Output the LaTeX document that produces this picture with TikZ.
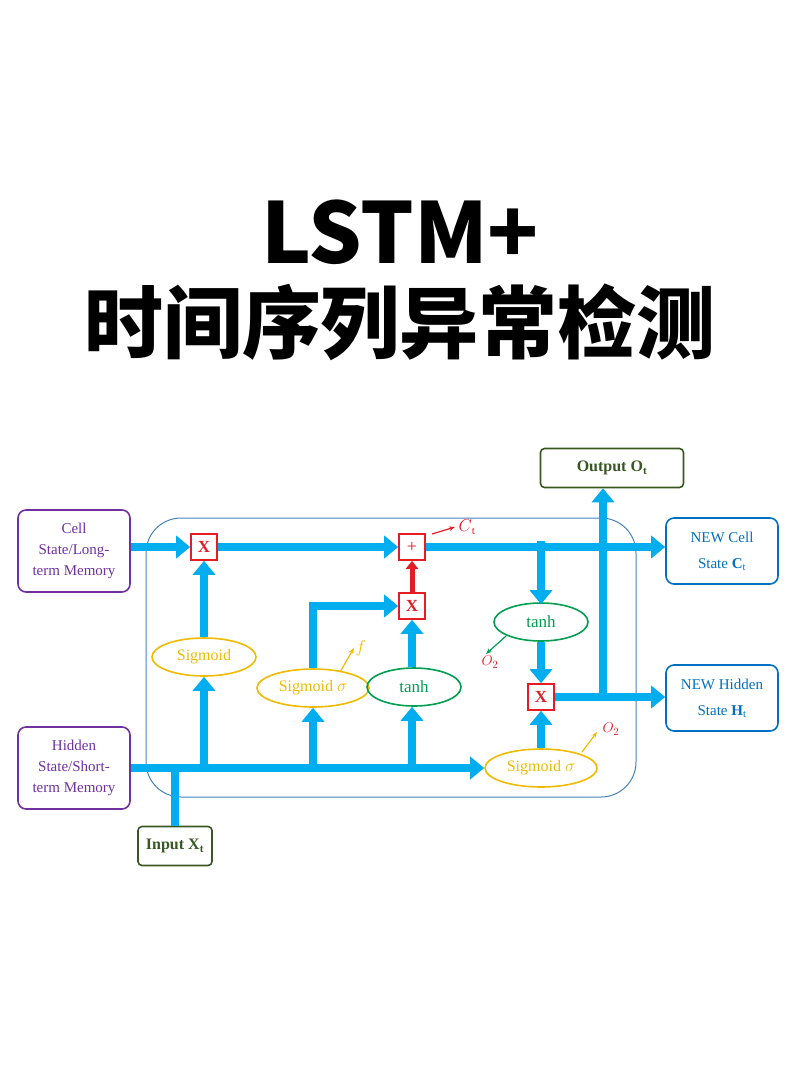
\documentclass[tikz,border=0pt]{standalone}
\usepackage{fontspec}
\setmainfont{Liberation Serif}
\newfontfamily\cjk{Noto Sans CJK SC}
\usetikzlibrary{arrows.meta,shapes.geometric,positioning}
\definecolor{flow}{RGB}{0,174,239}
\definecolor{gatered}{RGB}{228,28,36}
\definecolor{sigyel}{RGB}{240,186,0}
\definecolor{tanhgr}{RGB}{0,158,80}
\definecolor{memvio}{RGB}{112,48,160}
\definecolor{iogreen}{RGB}{56,87,35}
\definecolor{newblue}{RGB}{0,112,192}
\definecolor{cellline}{RGB}{70,130,190}
\tikzstyle{flowline}=[draw=flow,line width=8pt]
\tikzstyle{flowarr}=[flowline,-{Triangle[length=14pt,width=22pt]}]
\tikzstyle{op}=[draw=gatered,line width=1.6pt,minimum size=26pt,inner sep=0pt,text=gatered,font=\fontsize{17}{18}\selectfont\bfseries]
\tikzstyle{sig}=[ellipse,draw=sigyel,line width=1.6pt,text=sigyel,minimum height=38pt,font=\fontsize{16}{17}\selectfont]
\tikzstyle{tnh}=[ellipse,draw=tanhgr,line width=1.6pt,text=tanhgr,minimum width=94pt,minimum height=38pt,font=\fontsize{17}{18}\selectfont]
\tikzstyle{mem}=[draw=memvio,rounded corners=8pt,line width=1.6pt,text=memvio,minimum width=112pt,minimum height=82pt,align=center,font=\fontsize{15}{21}\selectfont]
\tikzstyle{newst}=[draw=newblue,rounded corners=8pt,line width=1.6pt,text=newblue,minimum width=112pt,minimum height=66pt,align=center,font=\fontsize{15}{26}\selectfont]
\tikzstyle{io}=[draw=iogreen,rounded corners=4pt,line width=1.6pt,text=iogreen,inner xsep=8pt,minimum height=39pt,font=\fontsize{16}{17}\selectfont\bfseries]
\tikzstyle{note}=[line width=1.2pt,-{Stealth[length=6pt]}]
\begin{document}
\begin{tikzpicture}[x=1pt,y=-1pt]
	\useasboundingbox (0,0) rectangle (800,1069);
	% title
	\node (title) at (400,232) {\cjk\bfseries\fontsize{84}{88}\selectfont LSTM+};
	\node (subtitle) at (400,322) {\cjk\bfseries\fontsize{79}{82}\selectfont 时间序列异常检测};
	% cell frame
	\draw[cellline,line width=1pt,rounded corners=35pt] (146,518) rectangle (636,797);
	% boxes outside
	\node[mem] (cell) at (74,551) {Cell\\State/Long-\\term Memory};
	\node[mem] (hidden) at (74,768) {Hidden\\State/Short-\\term Memory};
	\node[io] (input) at (175,846) {Input X\textsubscript{t}};
	\node[io,minimum width=143pt] (output) at (612,468) {Output O\textsubscript{t}};
	\node[newst] (newcell) at (722,551) {NEW Cell\\State \textbf{C}\textsubscript{t}};
	\node[newst] (newhid) at (722,698) {NEW Hidden\\State \textbf{H}\textsubscript{t}};
	% gates
	\node[op] (mulf) at (204,547) {X};
	\node[op,font=\fontsize{18}{18}\selectfont] (add) at (412,547) {+};
	\node[op] (muli) at (412,606) {X};
	\node[op] (mulo) at (541,697) {X};
	\node[sig,minimum width=104pt] (sigf) at (204,657) {Sigmoid};
	\node[sig,minimum width=112pt] (sigi) at (313,688) {Sigmoid $\sigma$};
	\node[tnh] (tanhc) at (414,687) {tanh};
	\node[tnh] (tanho) at (541,622) {tanh};
	\node[sig,minimum width=112pt] (sigo) at (541,768) {Sigmoid $\sigma$};
	% junctions
	\coordinate (jin) at (175,768);
	\coordinate (jf) at (204,768);
	\coordinate (ji) at (313,768);
	\coordinate (jc) at (412,768);
	\coordinate (jt) at (541,547);
	\coordinate (jout) at (603,697);
	% cell state line
	\draw[flowarr] (cell.east |- mulf) -- (mulf.west);
	\draw[flowarr] (mulf.east) -- (add.west);
	\draw[flowarr] (add.east) -- (newcell.west |- add);
	\draw[flowarr] ([yshift=6pt]jt) -- ([yshift=-2pt]tanho.north);
	\draw[flowarr] (tanho.south) -- (mulo.north);
	\draw[flowarr] (mulo.east) -- (newhid.west |- mulo);
	\draw[flowarr] (jout) -- (output.south -| jout);
	% hidden state line
	\draw[flowarr] (hidden.east) -- (sigo.west);
	\draw[flowline] (input.north) -- (jin);
	\draw[flowarr] (jf) -- (sigf.south);
	\draw[flowarr] (sigf.north) -- (mulf.south);
	\draw[flowarr] (ji) -- (sigi.south);
	\draw[flowarr] (sigi.north) |- (muli.west);
	\draw[flowarr] (jc) -- (tanhc.south -| jc);
	\draw[flowarr] (tanhc.north -| jc) -- (muli.south);
	\draw[flowarr] (sigo.north) -- (mulo.south);
	\draw[gatered,line width=5pt,-{Triangle[length=8pt,width=12pt]}] (muli.north) -- (add.south);
	% notes
	\coordinate (ctend) at (455,527);
	\draw[note,gatered] (432,534) -- (ctend);
	\node[text=gatered,font=\fontsize{16}{16}\selectfont,right=0pt of ctend] (ctlab) {$C$\textsubscript{t}};
	\coordinate (ftip) at (354,648);
	\draw[note,sigyel] (340,672) -- (ftip);
	\node[text=sigyel,font=\fontsize{16}{16}\selectfont,right=-2pt of ftip] (flab) {$f$};
	\coordinate (o2tip) at (486,654);
	\draw[note,tanhgr] (506,636) -- (o2tip);
	\node[text=gatered,font=\fontsize{15}{15}\selectfont] (o2lab) at (490,662) {$O_2$};
	\coordinate (o2btip) at (597,732);
	\draw[note,sigyel] (582,752) -- (o2btip);
	\node[text=gatered,font=\fontsize{15}{15}\selectfont] (o2blab) at (611,729) {$O_2$};
\end{tikzpicture}
\end{document}
